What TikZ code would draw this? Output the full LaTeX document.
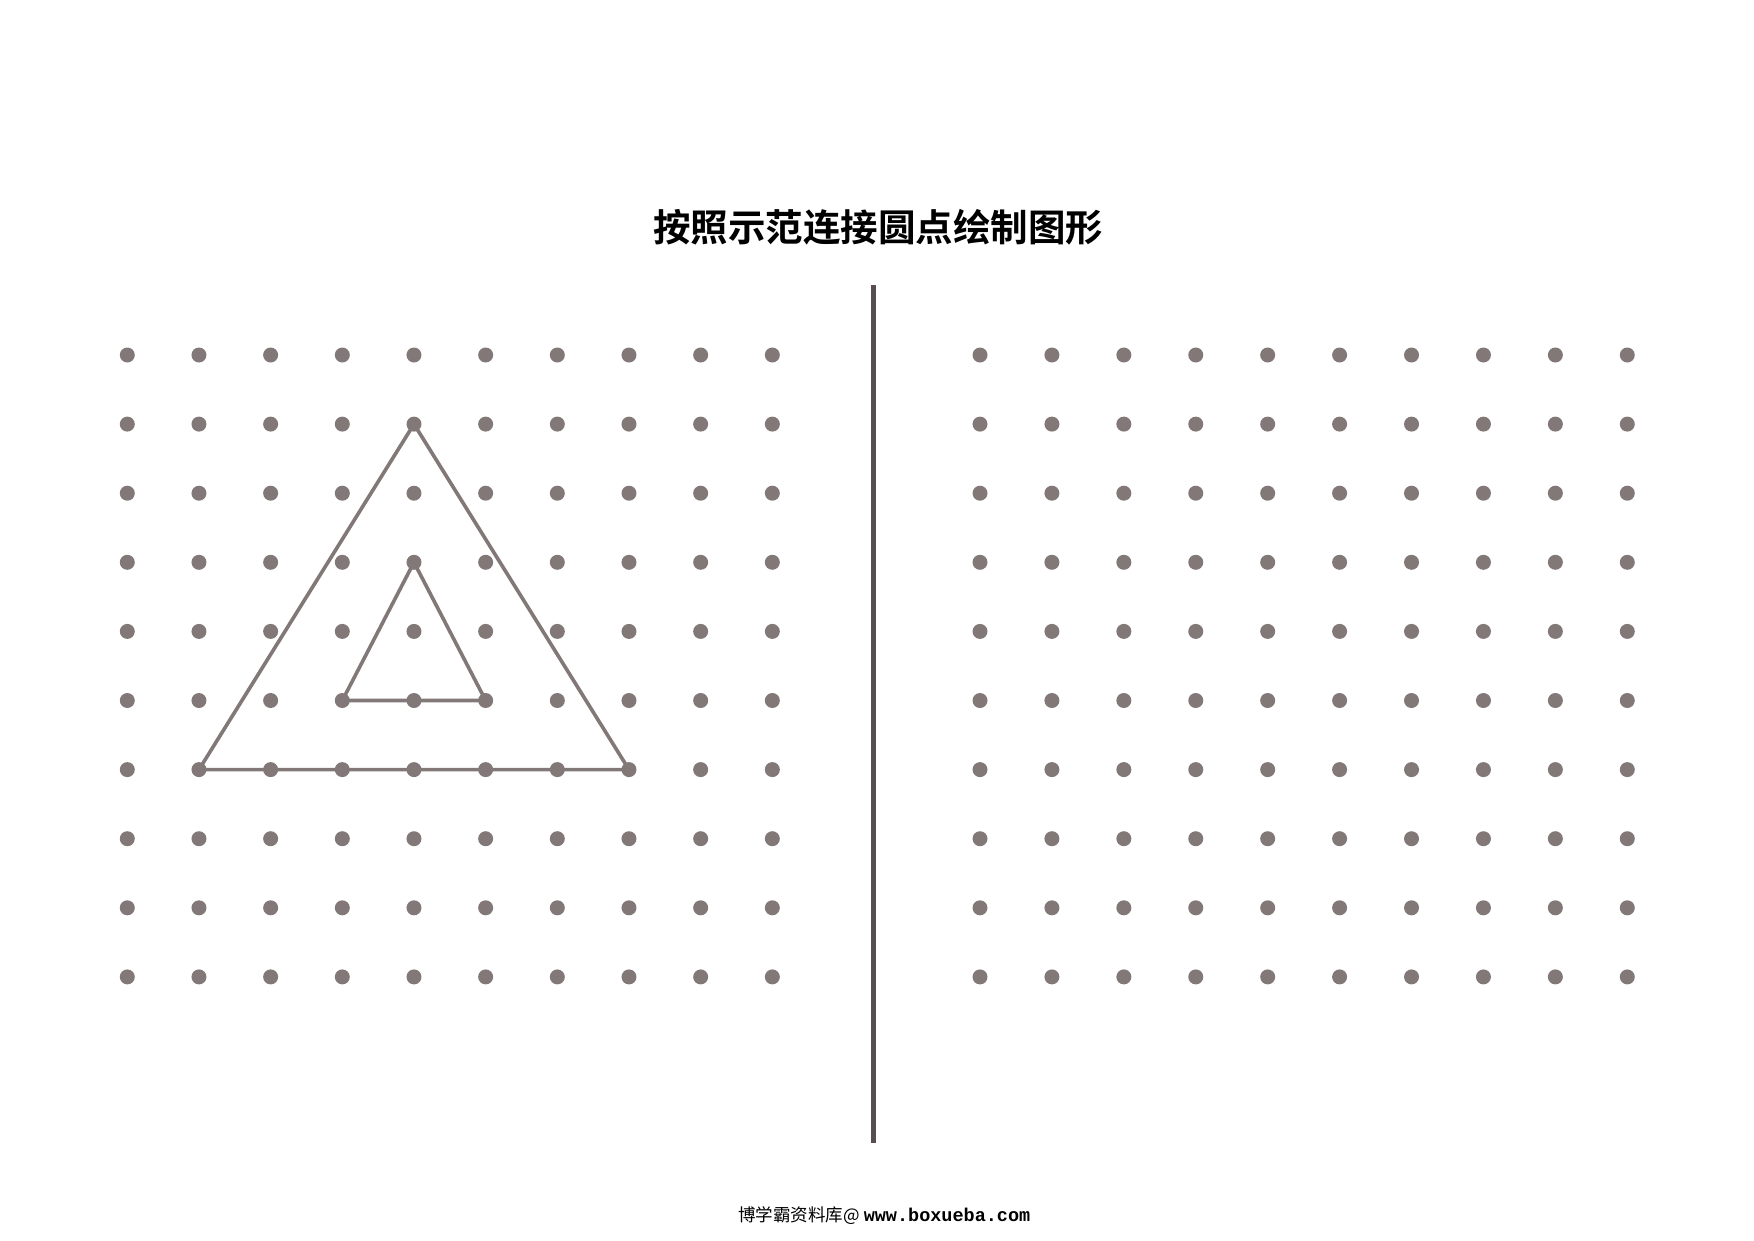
\documentclass[tikz,border=0pt]{standalone}
\usepackage{fontspec}
\newfontfamily\cjk{Noto Sans CJK SC}
\newfontfamily\cjkb{Noto Sans CJK SC Bold}
\newfontfamily\monob{Liberation Mono Bold}
\definecolor{dotc}{RGB}{130,120,120}
\definecolor{divc}{RGB}{88,78,80}
\begin{document}
\begin{tikzpicture}[x=1pt,y=-1pt,
  dot/.style={circle,fill=dotc,draw=none,minimum size=15pt,inner sep=0pt},
  shapeline/.style={draw=dotc,line width=3.6pt,line join=round,line cap=round},
  divline/.style={draw=divc,line width=5.5pt}]
\useasboundingbox[fill=white] (0,0) rectangle (1754,1240);
% title
\node[font=\cjkb\fontsize{37.5}{40}\selectfont,inner sep=0pt] (title) at (878,227) {按照示范连接圆点绘制图形};
% divider
\coordinate (dtop) at (873.7,285);
\coordinate (dbot) at (873.7,1143);
\draw[divline] (dtop) -- (dbot);
% dot grids
\foreach \i in {0,...,9}{
  \foreach \j in {0,...,9}{
    \node[dot] (L-\i-\j) at ({127.3+71.67*\i},{355+69.1*\j}) {};
    \node[dot] (R-\i-\j) at ({980+71.92*\i},{355+69.1*\j}) {};
  }
}
% outer triangle
\draw[shapeline] (L-4-1.center) -- (L-7-6.center) -- (L-1-6.center) -- cycle;
% inner triangle
\draw[shapeline] (L-4-3.center) -- (L-5-5.center) -- (L-3-5.center) -- cycle;
% footer
\node[anchor=west,inner sep=0pt] (footer) at (738,1216) {{\cjk\fontsize{17.5}{20}\selectfont 博学霸资料库@}\hspace{4pt}{\monob\fontsize{18.5}{20}\selectfont www.boxueba.com}};
\end{tikzpicture}
\end{document}
